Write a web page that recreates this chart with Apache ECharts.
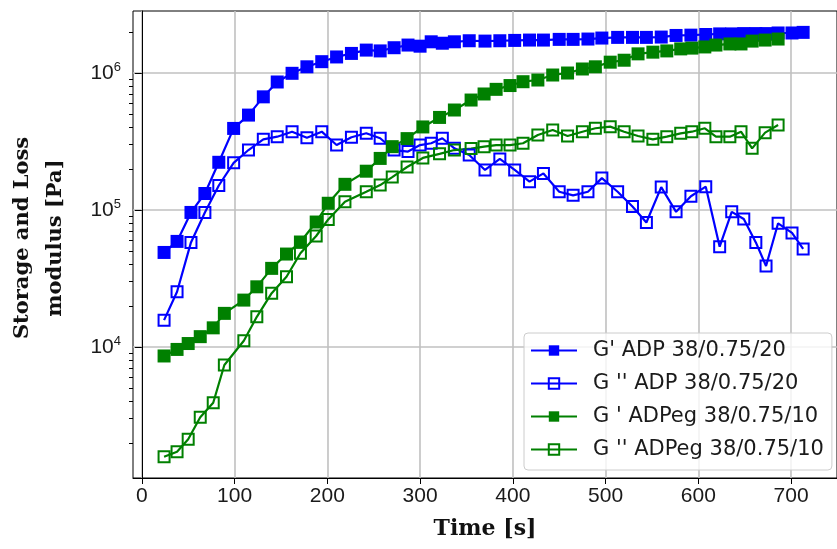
<!DOCTYPE html>
<html><head><meta charset="utf-8">
<script src="https://cdn.jsdelivr.net/npm/echarts@6/dist/echarts.min.js"></script>
<style>html,body{margin:0;padding:0;background:#fff}#c{width:837px;height:549px}</style>
</head><body><div id="c"></div>
<script>
// ---- data ----
const adpTime = [24, 38, 53, 68, 83, 99, 115, 131, 146, 162, 178, 194, 210, 226, 242, 257, 272, 287, 300, 312, 324, 337, 353, 370, 386, 402, 418, 433, 450, 465, 481, 496, 513, 529, 544, 560, 576, 592, 608, 623, 636, 649, 662, 673, 686, 701, 713];
const gPrimeADP = [4.9e4, 5.9e4, 9.6e4, 1.32e5, 2.23e5, 3.94e5, 4.93e5, 6.7e5, 8.6e5, 9.95e5, 1.11e6, 1.21e6, 1.31e6, 1.39e6, 1.47e6, 1.45e6, 1.53e6, 1.6e6, 1.57e6, 1.69e6, 1.65e6, 1.69e6, 1.72e6, 1.71e6, 1.72e6, 1.73e6, 1.74e6, 1.74e6, 1.76e6, 1.76e6, 1.77e6, 1.8e6, 1.82e6, 1.82e6, 1.82e6, 1.83e6, 1.88e6, 1.89e6, 1.91e6, 1.93e6, 1.93e6, 1.94e6, 1.94e6, 1.94e6, 1.96e6, 1.96e6, 1.98e6];
const gDoublePrimeADP = [1.57e4, 2.53e4, 5.8e4, 9.6e4, 1.51e5, 2.21e5, 2.74e5, 3.28e5, 3.43e5, 3.73e5, 3.37e5, 3.73e5, 2.98e5, 3.4e5, 3.63e5, 3.34e5, 2.74e5, 2.67e5, 2.98e5, 3.07e5, 3.34e5, 2.82e5, 2.52e5, 1.96e5, 2.36e5, 1.96e5, 1.61e5, 1.85e5, 1.36e5, 1.28e5, 1.36e5, 1.71e5, 1.36e5, 1.06e5, 8.1e4, 1.47e5, 9.7e4, 1.26e5, 1.48e5, 5.4e4, 9.7e4, 8.6e4, 5.8e4, 3.9e4, 8.0e4, 6.8e4, 5.2e4];
const egTime = [24, 38, 50, 63, 77, 89, 110, 124, 140, 156, 171, 188, 201, 219, 242, 257, 270, 286, 303, 321, 337, 355, 369, 382, 397, 411, 427, 443, 459, 475, 489, 505, 520, 535, 551, 566, 581, 593, 607, 619, 634, 646, 658, 672, 686];
const gPrimeEg = [8.6e3, 9.6e3, 1.06e4, 1.19e4, 1.38e4, 1.76e4, 2.2e4, 2.75e4, 3.75e4, 4.77e4, 5.84e4, 8.17e4, 1.12e5, 1.54e5, 1.92e5, 2.38e5, 2.9e5, 3.32e5, 4.04e5, 4.74e5, 5.37e5, 6.35e5, 7.03e5, 7.6e5, 8.1e5, 8.64e5, 8.89e5, 9.67e5, 1.0e6, 1.07e6, 1.11e6, 1.2e6, 1.24e6, 1.38e6, 1.42e6, 1.45e6, 1.5e6, 1.52e6, 1.55e6, 1.6e6, 1.63e6, 1.63e6, 1.71e6, 1.74e6, 1.77e6];
const gDoublePrimeEg = [1.58e3, 1.72e3, 2.12e3, 3.07e3, 3.92e3, 7.39e3, 1.11e4, 1.66e4, 2.47e4, 3.26e4, 4.83e4, 6.46e4, 8.53e4, 1.15e5, 1.36e5, 1.52e5, 1.74e5, 2.06e5, 2.4e5, 2.57e5, 2.74e5, 2.81e5, 2.9e5, 2.98e5, 2.98e5, 3.07e5, 3.53e5, 3.84e5, 3.47e5, 3.73e5, 3.95e5, 4.06e5, 3.73e5, 3.47e5, 3.28e5, 3.43e5, 3.63e5, 3.73e5, 3.95e5, 3.43e5, 3.43e5, 3.73e5, 2.82e5, 3.67e5, 4.17e5];
const seriesNames = ["G' ADP 38/0.75/20", "G '' ADP 38/0.75/20", "G ' ADPeg 38/0.75/10", "G '' ADPeg 38/0.75/10"];
const xTicks = [0, 100, 200, 300, 400, 500, 600, 700];
const yMajor = [1e4, 1e5, 1e6];
const yMinor = [2e3, 3e3, 4e3, 5e3, 6e3, 7e3, 8e3, 9e3, 2e4, 3e4, 4e4, 5e4, 6e4, 7e4, 8e4, 9e4, 2e5, 3e5, 4e5, 5e5, 6e5, 7e5, 8e5, 9e5, 2e6];

const BLUE = '#0000ff', GREEN = '#008000';
function pairs(t, v) { return t.map((x, i) => [x, v[i]]); }
function filledSeries(name, color, t, v) {
  return { name, type: 'line', data: pairs(t, v), symbol: 'rect', symbolSize: 13, showAllSymbol: true,
    lineStyle: { color, width: 2.2 }, itemStyle: { color }, emphasis: { disabled: true }, animation: false };
}
function openSeries(name, color, t, v) {
  return { name, type: 'line', data: pairs(t, v), symbol: 'rect', symbolSize: 11, showAllSymbol: true,
    lineStyle: { color, width: 2.2 }, itemStyle: { color: 'rgba(0,0,0,0)', borderColor: color, borderWidth: 2 },
    emphasis: { disabled: true }, animation: false };
}

const chart = echarts.init(document.getElementById('c'), null, { renderer: 'canvas' });
const gridLine = { show: true, lineStyle: { color: '#c0c0c0', width: 1.6 } };
chart.setOption({
  animation: false,
  grid: { left: 133, top: 11, bottom: 71, right: -12.5, show: true, borderColor: '#000', borderWidth: 1 },
  xAxis: {
    type: 'value', min: -9.5, max: 749.5,
    axisLine: { show: true, lineStyle: { color: '#000', width: 1 } },
    axisTick: { show: true, customValues: xTicks, length: 6, lineStyle: { color: '#000' } },
    axisLabel: { customValues: xTicks, fontFamily: 'Liberation Sans', fontSize: 21, color: '#1a1a1a', margin: 8 },
    splitLine: gridLine,
    name: 'Time [s]', nameLocation: 'middle', nameGap: 40,
    nameTextStyle: { fontFamily: 'DejaVu Serif', fontWeight: 'bold', fontSize: 22, color: '#111' }
  },
  yAxis: [{
    type: 'log', logBase: 10, min: 1106, max: 2836000, position: 'left',
    axisLine: { show: true, lineStyle: { color: '#000', width: 1 } },
    axisTick: { show: true, customValues: yMajor, length: 7, lineStyle: { color: '#000' } },
    axisLabel: {
      customValues: yMajor, margin: 12,
      formatter: v => '{b|10}{s|' + Math.round(Math.log10(v)) + '}',
      rich: {
        b: { fontFamily: 'Liberation Sans', fontSize: 21, color: '#1a1a1a', lineHeight: 24 },
        s: { fontFamily: 'Liberation Sans', fontSize: 13, color: '#1a1a1a', verticalAlign: 'top', lineHeight: 24 }
      }
    },
    splitLine: gridLine
  }, {
    type: 'log', logBase: 10, min: 1106, max: 2836000, position: 'left',
    axisLine: { show: false },
    axisTick: { show: true, customValues: yMinor, length: 4, lineStyle: { color: '#000' } },
    axisLabel: { show: false },
    splitLine: { show: false }
  }],
  legend: {
    orient: 'vertical', left: 524, top: 333, padding: [7, 8, 10, 6], itemGap: 12,
    itemWidth: 46, itemHeight: 13,
    backgroundColor: 'rgba(255,255,255,0.8)', borderColor: '#cccccc', borderWidth: 1, borderRadius: 4,
    textStyle: { fontFamily: 'DejaVu Sans', fontSize: 21, color: '#1a1a1a', padding: [0, 0, 0, 11] },
    data: seriesNames
  },
  graphic: [{
    type: 'text', x: 39, y: 238, rotation: Math.PI / 2,
    style: { text: 'Storage and Loss\nmodulus [Pa]', fontFamily: 'DejaVu Serif', fontWeight: 'bold', fontSize: 21,
      lineHeight: 33, fill: '#111', align: 'center', verticalAlign: 'middle' }
  }],
  series: [
    filledSeries(seriesNames[0], BLUE, adpTime, gPrimeADP),
    openSeries(seriesNames[1], BLUE, adpTime, gDoublePrimeADP),
    filledSeries(seriesNames[2], GREEN, egTime, gPrimeEg),
    openSeries(seriesNames[3], GREEN, egTime, gDoublePrimeEg)
  ]
});
</script></body></html>
